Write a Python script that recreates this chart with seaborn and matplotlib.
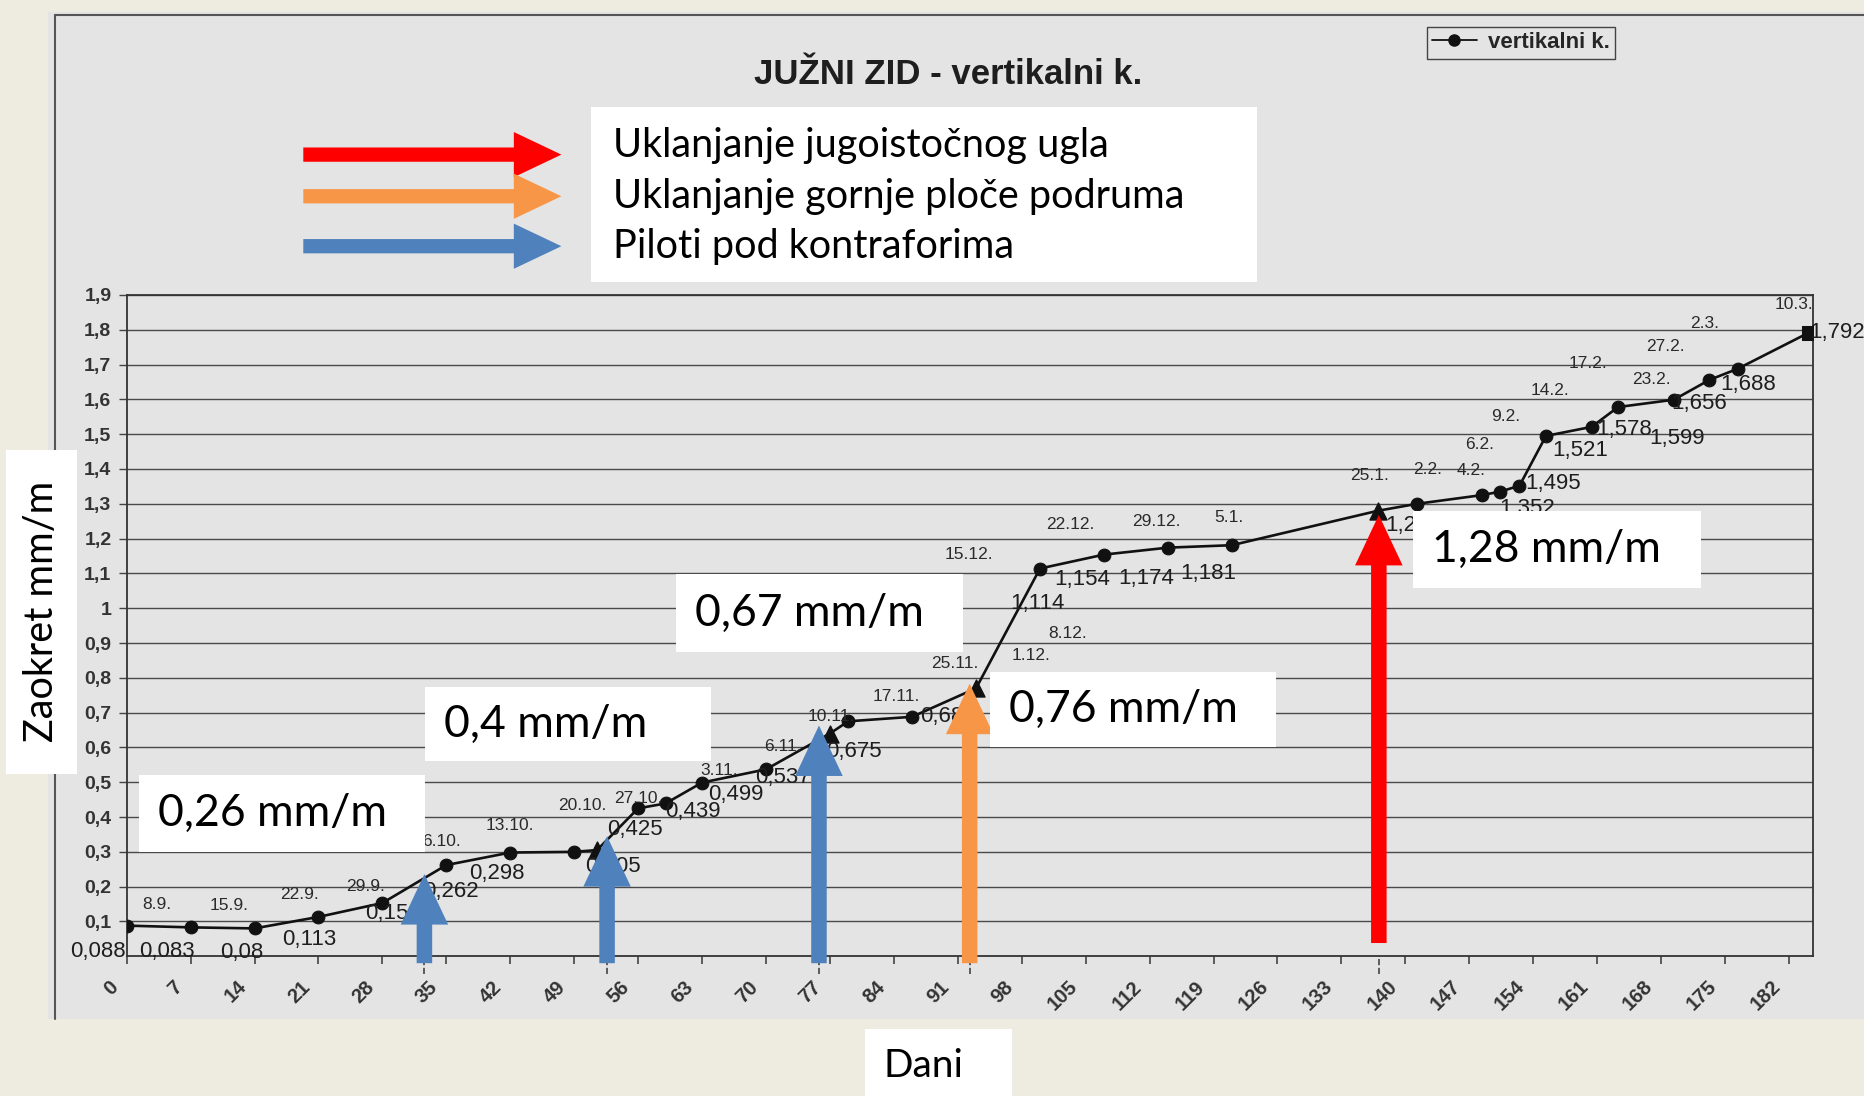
import numpy as np
import pandas as pd
import matplotlib.pyplot as plt
import seaborn as sns
from matplotlib.patches import Rectangle, FancyArrow
from matplotlib.lines import Line2D
from matplotlib.transforms import ScaledTranslation

# podaci ocitani sa skeniranog dijagrama
dani = [0, 7, 14, 21, 28, 35, 42, 49, 51.5, 56, 59, 63, 70, 77, 79, 86, 93,
        100, 107, 114, 121, 137, 141.3, 148.4, 150.4, 152.5, 155.4, 160.4,
        163.3, 169.4, 173.3, 176.4, 184.2]
zaokret = [0.088, 0.083, 0.080, 0.113, 0.153, 0.262, 0.298, 0.300, 0.305,
           0.425, 0.439, 0.499, 0.537, 0.640, 0.675, 0.688, 0.770,
           1.114, 1.154, 1.174, 1.181, 1.280, 1.300, 1.325, 1.335, 1.352,
           1.495, 1.521, 1.578, 1.599, 1.656, 1.688, 1.792]
oznake = ["0,088", "0,083", "0,08", "0,113", "0,153", "0,262", "0,298", "", "0,305",
          "0,425", "0,439", "0,499", "0,537", "", "0,675", "0,688", "",
          "1,114", "1,154", "1,174", "1,181", "1,28", "", "", "", "1,352",
          "1,495", "1,521", "1,578", "1,599", "1,656", "1,688", "1,792"]
datumi = ["", "8.9.", "15.9.", "22.9.", "29.9.", "6.10.", "13.10.", "20.10.", "",
          "27.10.", "", "3.11.", "6.11.", "10.11.", "", "17.11.", "25.11.",
          "15.12.", "22.12.", "29.12.", "5.1.", "25.1.", "2.2.", "4.2.", "6.2.",
          "9.2.", "14.2.", "17.2.", "", "23.2.", "27.2.", "2.3.", "10.3."]
markeri = ["o"] * 8 + ["^"] + ["o"] * 4 + ["^"] + ["o"] * 2 + ["^"] + ["o"] * 4 + ["^"] + ["o"] * 10 + ["s"]

ostali_datumi = ["1.12.", "8.12."]
ostali_dani = [99, 103]
ostali_y = [0.865, 0.926]

# pomaci oznaka (px na slici: desno, dolje)
pomak_oznake = [(-24, 22), (-20, 20), (-11, 20), (-8, 19), (9, 9), (4, 22), (-11, 18), (0, 0), (13, 14),
                (-3, 18), (23, 7), (28, 10), (14, 7), (0, 0), (5, 25), (30, 0), (0, 0),
                (-2, 29), (-18, 21), (-18, 26), (-20, 24), (24, 12), (0, 0), (0, 0), (0, 0), (6, 19),
                (6, 40), (-10, 20), (5, 19), (3, 33), (-9, 20), (9, 13), (24, 0)]
pomak_datuma = [(0, 0), (-28, 19), (-21, 19), (-16, 19), (-14, 14), (-4, 20), (0, 23), (7, 39), (0, 0),
                (0, 8), (0, 0), (14, 10), (14, 19), (1, 14), (0, 0), (-13, 17), (-18, 21),
                (-60, 12), (-28, 25), (-10, 22), (-2, 23), (-7, 30), (9, 29), (-9, 21), (-17, 40),
                (-12, 58), (3, 38), (-3, 53), (0, 0), (-19, 17), (-37, 28), (-28, 38), (-13, 24)]

y_tickovi = [round(0.1 * i, 1) for i in range(1, 20)]
x_tickovi = list(range(0, 183, 7))

legenda_tekst = ["Uklanjanje jugoistočnog ugla", "Uklanjanje gornje ploče podruma", "Piloti pod kontraforima"]
legenda_boje = ["#FF0000", "#F79646", "#4F81BD"]

brzine = ["0,26 mm/m", "0,4 mm/m", "0,67 mm/m", "0,76 mm/m", "1,28 mm/m"]
strelice_dan = [32.6, 52.6, 75.8, 92.3, 137.1]
strelice_vrh = [0.236, 0.345, 0.663, 0.783, 1.268]
strelice_dno = [-0.02, -0.02, -0.02, -0.02, 0.038]
strelice_boje = ["#4F81BD", "#4F81BD", "#4F81BD", "#F79646", "#FF0000"]

BEZ = "#EEECE1"
SIVA = "#E4E4E4"
TAMNA = "#1E1E1E"

sns.set_theme(style="whitegrid")
plt.rcParams["font.family"] = ["Liberation Sans", "DejaVu Sans"]

W, H = 1568, 921.5
PT = 1.1894 / 1.3889  # px na slici -> tocke


def fp(x, y):
    return x / W, 1 - y / H


fig = plt.figure(figsize=(18.65, 10.96), dpi=100, facecolor=BEZ)

# skenirani dio
fig.add_artist(Rectangle(fp(40, 857), 1 - 40 / W, (857 - 10) / H, transform=fig.transFigure,
                         facecolor=SIVA, edgecolor="none", zorder=-2))
x0, y0 = fp(46, 857)
x1, y1 = fp(1568, 13)
fig.add_artist(Line2D([x0, x0], [y0, y1], transform=fig.transFigure, color="#555555", lw=1.5, zorder=-1))
fig.add_artist(Line2D([x0, x1], [y1, y1], transform=fig.transFigure, color="#555555", lw=1.5, zorder=-1))

ax = fig.add_axes([106.5 / W, 1 - 804 / H, (1524 - 106.5) / W, (804 - 248) / H])
ax.set_facecolor(SIVA)

df = pd.DataFrame({"dan": dani, "zaokret": zaokret, "marker": markeri})
sns.lineplot(data=df, x="dan", y="zaokret", color="#111111", lw=1.9, ax=ax, zorder=4, legend=False)
for m, s in [("o", 85), ("^", 150), ("s", 90)]:
    sns.scatterplot(data=df[df["marker"] == m], x="dan", y="zaokret", marker=m, color="#111111",
                    edgecolor="#111111", s=s, ax=ax, legend=False, zorder=5)

for d, v, t, (dx, dy) in zip(dani, zaokret, oznake, pomak_oznake):
    if t:
        ax.annotate(t, (d, v), xytext=(dx * PT, -dy * PT), textcoords="offset points", ha="center",
                    va="center", fontsize=16, color=TAMNA, zorder=6, annotation_clip=False)
for d, v, t, (dx, dy) in zip(dani, zaokret, datumi, pomak_datuma):
    if t:
        ax.annotate(t, (d, v), xytext=(dx * PT, dy * PT), textcoords="offset points", ha="center",
                    va="center", fontsize=12.5, color="#2a2a2a", zorder=6, annotation_clip=False)
for d, v, t in zip(ostali_dani, ostali_y, ostali_datumi):
    ax.text(d, v, t, ha="center", va="center", fontsize=12.5, color="#2a2a2a", zorder=6)

ax.set_xlim(0, 184.6)
ax.set_ylim(0, 1.9)
ax.set_yticks(y_tickovi)
ax.set_yticklabels([f"{v:g}".replace(".", ",") for v in y_tickovi], fontsize=14,
                   fontweight="bold", color="#333333")
ax.set_xticks(x_tickovi)
ax.set_xticklabels([str(v) for v in x_tickovi], rotation=45, ha="right",
                   rotation_mode="anchor", fontsize=14.5, fontweight="bold", color="#333333")
ax.tick_params(axis="x", bottom=True, length=6, width=1.2, color="#444444", pad=9)
ax.tick_params(axis="y", left=True, length=6, width=1.0, color="#444444", pad=5)
for lab in ax.get_xticklabels():
    lab.set_transform(lab.get_transform() + ScaledTranslation(-13 / 72, 0, fig.dpi_scale_trans))
ax.xaxis.grid(False)
ax.yaxis.grid(True, color="#4a4a4a", lw=1.0)
for s in ax.spines.values():
    s.set_visible(True)
    s.set_color("#333333")
    s.set_linewidth(1.3)
ax.set_xlabel("")
ax.set_ylabel("")

# isprekidane linije ispod osi
ax.vlines(strelice_dan, -0.05, 0, colors="#444444", lw=1.2, linestyles="--", clip_on=False)

# vertikalne strelice za dogadjaje
for d, vrh, dno, c in zip(strelice_dan, strelice_vrh, strelice_dno, strelice_boje):
    ax.add_patch(FancyArrow(d, dno, 0, vrh - dno, width=1.7, head_width=5.2, head_length=0.145,
                            length_includes_head=True, color=c, lw=0, clip_on=False, zorder=8))

# legenda originalnog dijagrama
h = Line2D([], [], color="#111111", marker="o", lw=1.3, markersize=8)
ax.legend(handles=[h], labels=["vertikalni k."], loc="upper left",
          bbox_to_anchor=fp(1190, 13), bbox_transform=fig.transFigure, frameon=True,
          fancybox=False, edgecolor="#444444", facecolor=SIVA, framealpha=1,
          prop={"size": 16, "weight": "bold"}, handlelength=2.0, borderpad=0.25,
          handletextpad=0.5)

fig.text(*fp(797, 63), "JUŽNI ZID - vertikalni k.", ha="center", va="center",
         fontsize=25, fontweight="bold", color=TAMNA)


def bijela_kutija(xa, ya, xb, yb):
    fig.add_artist(Rectangle(fp(xa, yb), (xb - xa) / W, (yb - ya) / H, transform=fig.transFigure,
                             facecolor="white", edgecolor="none", zorder=10))


# legenda sa strelicama
bijela_kutija(497, 90, 1057, 237)
for i, (t, c) in enumerate(zip(legenda_tekst, legenda_boje)):
    yy = [130, 165, 207][i]
    ty = [122, 165, 207][i]
    xa, ya = fp(255, yy)
    fig.add_artist(FancyArrow(xa, ya, (472 - 255) / W, 0, width=12 / H, head_width=38 / H,
                              head_length=40 / W, length_includes_head=True, color=c, lw=0,
                              transform=fig.transFigure, zorder=11))
    fig.text(*fp(515, ty), t, ha="left", va="center", fontsize=28.5, family="Lato",
             color="black", zorder=12)

# kutije sa brzinama
kutije = [(117, 652, 357, 716), (357, 578, 598, 640), (568, 483, 810, 548),
          (832, 565, 1073, 628), (1188, 430, 1430, 494)]
for t, (xa, ya, xb, yb) in zip(brzine, kutije):
    bijela_kutija(xa, ya, xb, yb)
    fig.text(*fp(xa + 16, (ya + yb) / 2), t, ha="left", va="center", fontsize=32,
             family="Lato", color="black", zorder=12)

# naslovi osi
bijela_kutija(5, 378, 65, 651)
fig.text(*fp(35, 514), "Zaokret mm/m", rotation=90, ha="center", va="center", fontsize=28.5,
         family="Lato", color="black", zorder=12)
bijela_kutija(727, 865, 851, 921.5)
fig.text(*fp(776, 896), "Dani", ha="center", va="center", fontsize=28, family="Lato",
         color="black", zorder=12)

fig.savefig("out.png", dpi=100, facecolor=BEZ)
